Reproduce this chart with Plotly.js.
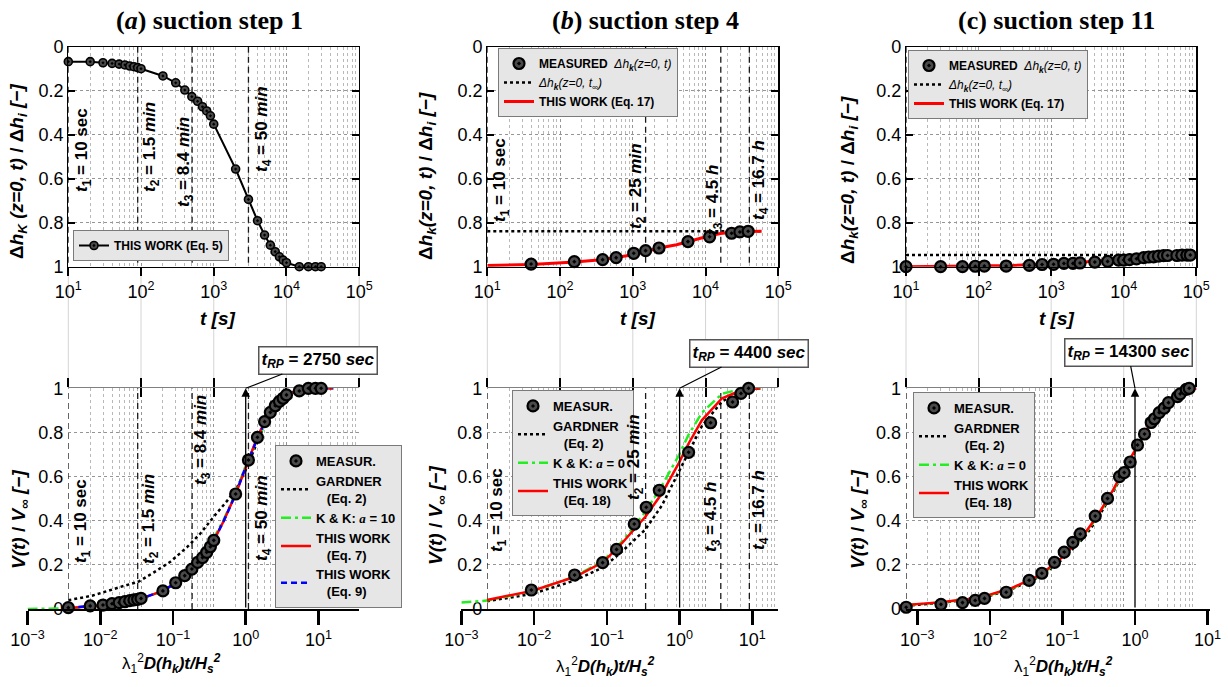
<!DOCTYPE html>
<html><head><meta charset="utf-8">
<script src="https://cdn.plot.ly/plotly-3.0.1.min.js"></script>
<style>html,body{margin:0;padding:0;background:#fff;}#chart{width:1228px;height:687px;}</style>
</head><body><div id="chart"></div>
<script>
// ================= DATA =================
// (a) suction step 1 — top: Δh_K(z=0,t)/Δh_i vs t [s]
const aTopT = [10,20,30,40,50,60,70,80,90,100,200,300,400,500,600,700,800,900,1000,2000,3000,4000,5000,6000,7000,8000,9000,10000,15000,20000,25000,30000];
const aTopY = [0.068,0.068,0.073,0.076,0.079,0.083,0.088,0.091,0.095,0.100,0.133,0.164,0.197,0.227,0.248,0.273,0.292,0.314,0.352,0.556,0.694,0.791,0.856,0.902,0.932,0.955,0.970,0.982,1.0,1.0,1.0,1.0];
// (a) bottom: V(t)/V∞ vs λ1²D t/Hs²
const aMeasX = [0.00364,0.00727,0.0109,0.0145,0.0182,0.0218,0.0255,0.0291,0.0327,0.0364,0.0727,0.109,0.145,0.182,0.218,0.255,0.291,0.327,0.364,0.727,1.09,1.45,1.82,2.18,2.55,2.91,3.27,3.64,5.45,7.27,9.09,10.9];
const aMeasY = [0.006,0.014,0.018,0.024,0.029,0.033,0.038,0.041,0.044,0.048,0.082,0.119,0.151,0.181,0.211,0.233,0.257,0.282,0.311,0.521,0.675,0.778,0.849,0.891,0.921,0.941,0.955,0.970,0.988,1.0,1.0,1.0];
const aGardX = [0.00364,0.0077,0.019,0.0337,0.054,0.092,0.156,0.238,0.363,0.555,0.76,1.0,1.3,1.7,2.2,3.0,4.0,6.0,10,16];
const aGardY = [0.040,0.060,0.100,0.124,0.165,0.214,0.280,0.342,0.418,0.490,0.550,0.630,0.720,0.815,0.885,0.945,0.978,0.996,1.0,1.0];
const aKKX = [0.001,0.00364,0.006,0.01,0.02,0.0364,0.0727,0.145,0.3,0.5,0.727,1.0,1.3,1.6,2.0,2.5,3.0,4.0,5.5,8,16];
const aKKY = [0.0,0.003,0.009,0.016,0.029,0.046,0.082,0.152,0.270,0.405,0.525,0.650,0.735,0.795,0.860,0.910,0.945,0.975,0.992,0.999,1.0];
const aEq7X = [0.00364,0.0042,0.0073,0.01,0.02,0.0364,0.0727,0.109,0.145,0.2,0.3,0.364,0.5,0.727,1.0,1.3,1.6,2.0,2.5,3.0,4.0,5.5,8,16];
const aEq7Y = [0.0,0.006,0.012,0.017,0.031,0.047,0.082,0.118,0.150,0.195,0.265,0.310,0.400,0.520,0.645,0.740,0.810,0.870,0.918,0.948,0.977,0.993,0.999,1.0];
const aEq9X = [0.00364,0.0073,0.01,0.02,0.0364,0.0727,0.109,0.145,0.2,0.3,0.364,0.5,0.727,1.0,1.3,1.6,2.0,2.5,3.0,4.0,5.5,8,16];
const aEq9Y = [0.005,0.012,0.017,0.031,0.047,0.082,0.118,0.150,0.195,0.265,0.310,0.400,0.520,0.645,0.738,0.805,0.868,0.916,0.947,0.977,0.993,0.999,1.0];

// (b) suction step 4
const bTopT = [40,157,385,590,1030,1500,2290,5730,11370,22800,29650,38500];
const bTopY = [0.988,0.977,0.968,0.959,0.939,0.927,0.915,0.886,0.864,0.848,0.842,0.839];
const bInfT = [10,59000];
const bInfY = [0.839,0.839];
const bEq17T = [10,40,160,400,1000,2300,4000,5700,8000,11400,16000,25000,40000,59000];
const bEq17Y = [0.995,0.990,0.979,0.967,0.946,0.915,0.900,0.886,0.872,0.859,0.849,0.842,0.840,0.839];
const bMeasX = [0.00916,0.036,0.0875,0.136,0.238,0.348,0.526,1.33,2.67,5.35,6.98,8.88];
const bMeasY = [0.086,0.154,0.21,0.27,0.385,0.461,0.538,0.71,0.844,0.938,0.977,1.0];
const bGardX = [0.00225,0.00935,0.0368,0.0903,0.161,0.338,0.573,0.97,1.33,2.03,3.83,7.2,13];
const bGardY = [0.035,0.068,0.13,0.19,0.26,0.36,0.47,0.62,0.71,0.83,0.94,0.99,1.0];
const bKKX = [0.001,0.00225,0.00935,0.0368,0.0903,0.161,0.338,0.573,0.97,1.33,2.03,3.83,7.2,13];
const bKKY = [0.03,0.038,0.08,0.148,0.22,0.305,0.44,0.56,0.695,0.79,0.89,0.975,0.998,1.0];
const bEq18X = [0.00225,0.00935,0.0368,0.0903,0.161,0.338,0.573,0.97,1.33,2.03,3.83,7.2,13];
const bEq18Y = [0.041,0.082,0.146,0.214,0.298,0.418,0.524,0.66,0.75,0.856,0.955,0.992,1.0];

// (c) suction step 11
const cTopT = [10,30,60,90,120,240,500,750,1080,1500,2000,2500,4000,6000,8500,10000,12000,15000,18800,22000,25800,30200,35400,40200,54000,63400,74300,82600];
const cTopY = [1.0,1.0,1.0,0.998,0.997,0.997,0.994,0.99,0.989,0.985,0.985,0.983,0.979,0.976,0.97,0.97,0.968,0.964,0.959,0.956,0.955,0.952,0.95,0.949,0.949,0.947,0.947,0.947];
const cInfT = [10,100000];
const cInfY = [0.947,0.947];
const cEq17T = [10,100,300,1000,3000,6000,10000,20000,40000,100000];
const cEq17Y = [1.0,0.997,0.994,0.988,0.979,0.972,0.964,0.955,0.949,0.947];
const cMeasX = [0.000703,0.00212,0.0042,0.00628,0.00844,0.0168,0.0348,0.0521,0.0778,0.1058,0.1394,0.176,0.283,0.418,0.611,0.71,0.859,1.083,1.352,1.672,1.857,2.155,2.525,2.894,3.85,4.2,5.08,5.58];
const cMeasY = [0.008,0.021,0.029,0.039,0.048,0.076,0.13,0.162,0.211,0.258,0.302,0.34,0.421,0.501,0.6,0.618,0.666,0.743,0.793,0.845,0.862,0.89,0.91,0.935,0.962,0.975,0.995,1.0];
const cGardX = [0.0007,0.002,0.005,0.01,0.02,0.05,0.1,0.2,0.3,0.5,0.7,1,1.5,2,3,4,5,7];
const cGardY = [0.015,0.027,0.042,0.06,0.09,0.148,0.225,0.325,0.405,0.53,0.62,0.715,0.82,0.88,0.94,0.97,0.985,1.0];
const cKKX = [0.0007,0.002,0.005,0.01,0.02,0.05,0.1,0.2,0.3,0.5,0.7,1,1.5,2,2.4];
const cKKY = [0.017,0.029,0.044,0.063,0.093,0.152,0.232,0.335,0.415,0.535,0.625,0.715,0.815,0.87,0.9];
const cEq18X = [0.0007,0.002,0.005,0.01,0.02,0.05,0.1,0.2,0.3,0.5,0.7,1,1.5,2,3,4,5,7];
const cEq18Y = [0.018,0.03,0.045,0.065,0.095,0.155,0.235,0.34,0.42,0.54,0.63,0.72,0.82,0.88,0.94,0.97,0.985,1.0];

// time markers [s] and reference times t_RP [s]
const aTimes = [10,90,504,3000];
const bTimes = [10,1500,16200,40000];
const cTimes = [10];
const tRP = [2750,4400,14300];

// tick labels
const tTickVals = [10,100,1000,10000,100000];
const tTickText = ['10<sup>1</sup>','10<sup>2</sup>','10<sup>3</sup>','10<sup>4</sup>','10<sup>5</sup>'];
const xnTickVals = [0.001,0.01,0.1,1,10];
const xnTickText = ['10<sup>\u22123</sup>','10<sup>\u22122</sup>','10<sup>\u22121</sup>','10<sup>0</sup>','10<sup>1</sup>'];
const yTickVals = [0,0.2,0.4,0.6,0.8,1];
const yTickText = ['0','0.2','0.4','0.6','0.8','1'];

const panelTitles = ['<b>(<i>a</i>) suction step 1</b>','<b>(<i>b</i>) suction step 4</b>','<b>(c) suction step 11</b>'];
const aLabels = ['<i>t</i><sub>1</sub> = 10 sec','<i>t</i><sub>2</sub> = 1.5 <i>min</i>','<i>t</i><sub>3</sub> = 8.4 <i>min</i>','<i>t</i><sub>4</sub> = 50 <i>min</i>'];
const bLabels = ['<i>t</i><sub>1</sub> = 10 sec','<i>t</i><sub>2</sub> = 25 <i>min</i>','<i>t</i><sub>3</sub> = 4.5 <i>h</i>','<i>t</i><sub>4</sub> = 16.7 <i>h</i>'];
const tRPLabels = ['2750','4400','14300'];

// ================= LAYOUT GEOMETRY (pixels) =================
const W = 1228, H = 687;
const FONT = 'Liberation Sans, Arial, Helvetica, sans-serif';
const SERIF = 'Liberation Serif, Times New Roman, serif';
const fx = p => p / W;
const fy = p => 1 - p / H;
const boxes = [{L:68.3,R:359.2},{L:487.3,R:778.3},{L:906,R:1196.3}];
const topPix = [46.7,266.7], botPix = [388.3,609];
const xnRanges = [[-3, Math.log10(1e5/2750)],[-3, Math.log10(1e5/4400)],[Math.log10(10/14300), 1.04]];
function xnDomain(i){
  const b = boxes[i], dec = (b.R-b.L)/4, lt = Math.log10(tRP[i]);
  const p = v => b.L + (v + lt - 1)*dec;
  return [fx(p(xnRanges[i][0])), fx(p(xnRanges[i][1]))];
}

const grid = {showgrid:true, gridcolor:'#959595', griddash:'dot', gridwidth:1};
const minorGrid = {dtick:'D1', showgrid:true, gridcolor:'#b8b8b8', griddash:'dot', gridwidth:1, ticks:''};
const tickfont = {family:FONT, size:18, color:'#000'};

const layout = {
  width:W, height:H, margin:{l:0,r:0,t:0,b:0},
  paper_bgcolor:'#fff', plot_bgcolor:'rgba(0,0,0,0)',
  font:{family:FONT, color:'#000'}, showlegend:true,
  shapes:[], annotations:[]
};
const ax = id => id.replace(/^x/,'xaxis').replace(/^y/,'yaxis');

for (let i=0;i<3;i++){
  const b = boxes[i];
  const xT = i===0?'x':'x'+(i+1), yT = i===0?'y':'y'+(i+1);
  const xB = 'x'+(i+4), yB = 'y'+(i+4);
  const xN = 'x'+(i+7), yN = 'y'+(i+7);
  const xO = 'x'+(i+10);
  layout[ax(xT)] = Object.assign({domain:[fx(b.L),fx(b.R)], anchor:yT, type:'log', range:[1,5],
    tickmode:'array', tickvals:tTickVals, ticktext:tTickText, ticks:'outside', ticklen:8, tickwidth:2, tickcolor:'#000',
    showline:true, linecolor:'#000', linewidth:1.2, mirror:true, zeroline:false, tickfont, minor:minorGrid}, grid);
  layout[ax(yT)] = Object.assign({domain:[fy(topPix[1]),fy(topPix[0])], anchor:xT, range:[1,0],
    tickmode:'array', tickvals:yTickVals, ticktext:yTickText, ticks:'inside', ticklen:7, tickwidth:2, tickcolor:'#000',
    showline:true, linecolor:'#000', linewidth:1.2, mirror:'ticks', zeroline:false, tickfont}, grid);
  layout[ax(xB)] = Object.assign({domain:[fx(b.L),fx(b.R)], anchor:yB, type:'log', range:[1,5], side:'top',
    tickmode:'linear', tick0:0, dtick:1, ticks:'inside', ticklen:9, tickwidth:2, tickcolor:'#000', showticklabels:false,
    showline:true, linecolor:'#808080', linewidth:1, zeroline:false, minor:minorGrid}, grid);
  layout[ax(xO)] = {overlaying:xB, anchor:yB, type:'log', range:[1,5], side:'top', tickmode:'linear', tick0:0, dtick:1,
    ticks:'outside', ticklen:9, tickwidth:2, tickcolor:'#000', showticklabels:false, showgrid:false, showline:false, zeroline:false};
  layout[ax(yB)] = Object.assign({domain:[fy(botPix[1]),fy(botPix[0])], anchor:xB, range:[0,1],
    tickmode:'array', tickvals:yTickVals, ticktext:yTickText, ticks:'', ticklabelstandoff:4, showline:false, zeroline:false, tickfont}, grid);
  layout[ax(xN)] = {domain:xnDomain(i), anchor:yN, type:'log', range:xnRanges[i],
    tickmode:'array', tickvals:xnTickVals, ticktext:xnTickText, ticks:'outside', ticklen:14, tickwidth:2.5, tickcolor:'#000',
    showline:true, linecolor:'#000', linewidth:1.5, showgrid:false, zeroline:false, tickfont};
  layout[ax(yN)] = {domain:[fy(botPix[1]),fy(botPix[0])], anchor:xN, range:[0,1], visible:false};

  // light connector lines between the two rows at every decade of t
  for (let k=0;k<5;k++){
    const px = b.L + k*(b.R-b.L)/4;
    layout.shapes.push({type:'line', xref:'paper', yref:'paper', x0:fx(px), x1:fx(px), y0:fy(botPix[0]), y1:fy(topPix[1]),
      line:{color:'#d4d4d4', width:1}, layer:'below'});
  }
}

// ================= LEGENDS =================
const legBase = {xanchor:'left', yanchor:'top', bgcolor:'#e6e6e6', bordercolor:'#7a7a7a', borderwidth:1,
  itemwidth:30, traceorder:'normal', valign:'middle', tracegroupgap:0};
layout.legend  = Object.assign({}, legBase, {x:fx(73),  y:fy(230), font:{family:FONT,size:12,color:'#000'}});
layout.legend2 = Object.assign({}, legBase, {x:fx(498), y:fy(48),  font:{family:FONT,size:12,color:'#000'}});
layout.legend3 = Object.assign({}, legBase, {x:fx(908), y:fy(50),  font:{family:FONT,size:12,color:'#000'}});
layout.legend4 = Object.assign({}, legBase, {x:fx(275), y:fy(445), font:{family:FONT,size:13,color:'#000'}});
layout.legend5 = Object.assign({}, legBase, {x:fx(512), y:fy(390), font:{family:FONT,size:13,color:'#000'}});
layout.legend6 = Object.assign({}, legBase, {x:fx(913), y:fy(392), font:{family:FONT,size:13,color:'#000'}});

// ================= TRACES =================
const traces = [];
const measMarker = {symbol:'circle-dot', size:11, color:'#4a4a4a', line:{color:'#000', width:2.2}};
function vlines(times, xa, ya){
  times.forEach(t => traces.push({type:'scatter', mode:'lines', x:[t,t], y:[0,1], xaxis:xa, yaxis:ya,
    line:{color:'#1a1a1a', width:1.3, dash:'6px,4px'}, showlegend:false, hoverinfo:'skip'}));
}
vlines(aTimes,'x','y'); vlines(bTimes,'x2','y2'); vlines(cTimes,'x3','y3');
vlines(aTimes,'x4','y4'); vlines(bTimes,'x5','y5'); vlines(cTimes,'x6','y6');
// empty traces so the overlay tick axes exist
['x10','x11','x12'].forEach((xa,i)=>traces.push({type:'scatter', mode:'lines', x:[10,10], y:[null,null], xaxis:xa, yaxis:'y'+(i+4), showlegend:false, hoverinfo:'skip'}));

// (a) top
traces.push({type:'scatter', mode:'lines+markers', x:aTopT, y:aTopY, xaxis:'x', yaxis:'y', cliponaxis:false,
  line:{color:'#000', width:2}, marker:{symbol:'circle-dot', size:8, color:'#4a4a4a', line:{color:'#000', width:1.6}},
  name:'<b>THIS WORK (Eq. 5)</b>', legend:'legend'});

// (b),(c) top
const measName = '<b>MEASURED</b>\u00a0\u00a0<i>\u0394h<sub><b>k</b></sub>(z=0, t)</i>';
const infName = '<i>\u0394h<sub><b>k</b></sub>(z=0, t<sub>\u221e</sub>)</i>';
[[bInfT,bInfY,bEq17T,bEq17Y,bTopT,bTopY,'x2','y2','legend2'],[cInfT,cInfY,cEq17T,cEq17Y,cTopT,cTopY,'x3','y3','legend3']].forEach(p=>{
  traces.push({type:'scatter', mode:'lines', x:p[0], y:p[1], xaxis:p[6], yaxis:p[7], line:{color:'#000', width:2.5, dash:'dot'},
    name:infName, legend:p[8], legendrank:2});
  traces.push({type:'scatter', mode:'lines', x:p[2], y:p[3], xaxis:p[6], yaxis:p[7], line:{color:'#ff0000', width:3},
    name:'<b>THIS WORK (Eq. 17)</b>', legend:p[8], legendrank:3});
  traces.push({type:'scatter', mode:'markers', x:p[4], y:p[5], xaxis:p[6], yaxis:p[7], cliponaxis:false,
    marker:measMarker, name:measName, legend:p[8], legendrank:1});
});

// bottom rows
const nb = '\u00a0\u00a0\u00a0';
function kkName(a){ return '<b>K &amp; K: <i><span style="font-family:Liberation Serif">a</span></i> = '+a+'</b>'; }
traces.push({type:'scatter', mode:'lines', x:aGardX, y:aGardY, xaxis:'x7', yaxis:'y7', line:{color:'#000', width:2.5, dash:'dot'},
  name:'<b>GARDNER</b><br><b>'+nb+'(Eq. 2)</b>', legend:'legend4', legendrank:2});
traces.push({type:'scatter', mode:'lines', x:aKKX, y:aKKY, xaxis:'x7', yaxis:'y7', line:{color:'#22ee22', width:2.5, dash:'10px,4px,3px,4px'},
  name:kkName('10'), legend:'legend4', legendrank:3});
traces.push({type:'scatter', mode:'lines', x:aEq7X, y:aEq7Y, xaxis:'x7', yaxis:'y7', line:{color:'#ff0000', width:2.5},
  name:'<b>THIS WORK</b><br><b>'+nb+'(Eq. 7)</b>', legend:'legend4', legendrank:4});
traces.push({type:'scatter', mode:'lines', x:aEq9X, y:aEq9Y, xaxis:'x7', yaxis:'y7', line:{color:'#0000ff', width:2.5, dash:'6px,4px'},
  name:'<b>THIS WORK</b><br><b>'+nb+'(Eq. 9)</b>', legend:'legend4', legendrank:5});
traces.push({type:'scatter', mode:'markers', x:aMeasX, y:aMeasY, xaxis:'x7', yaxis:'y7', cliponaxis:false,
  marker:measMarker, name:'<b>MEASUR.</b>', legend:'legend4', legendrank:1});
[[bGardX,bGardY,bKKX,bKKY,bEq18X,bEq18Y,bMeasX,bMeasY,'x8','y8','legend5'],[cGardX,cGardY,cKKX,cKKY,cEq18X,cEq18Y,cMeasX,cMeasY,'x9','y9','legend6']].forEach(p=>{
  traces.push({type:'scatter', mode:'lines', x:p[0], y:p[1], xaxis:p[8], yaxis:p[9], line:{color:'#000', width:2.5, dash:'dot'},
    name:'<b>GARDNER</b><br><b>'+nb+'(Eq. 2)</b>', legend:p[10], legendrank:2});
  traces.push({type:'scatter', mode:'lines', x:p[2], y:p[3], xaxis:p[8], yaxis:p[9], line:{color:'#22ee22', width:2.5, dash:'10px,4px,3px,4px'},
    name:kkName('0'), legend:p[10], legendrank:3});
  traces.push({type:'scatter', mode:'lines', x:p[4], y:p[5], xaxis:p[8], yaxis:p[9], line:{color:'#ff0000', width:2.5},
    name:'<b>THIS WORK</b><br><b>'+nb+'(Eq. 18)</b>', legend:p[10], legendrank:4});
  traces.push({type:'scatter', mode:'markers', x:p[6], y:p[7], xaxis:p[8], yaxis:p[9], cliponaxis:false,
    marker:measMarker, name:'<b>MEASUR.</b>', legend:p[10], legendrank:1});
});

// ================= ANNOTATIONS =================
const A = layout.annotations;
const titlePos = [[209,20],[645,20],[1056,20]];
panelTitles.forEach((t,i)=>A.push({xref:'paper', yref:'paper', x:fx(titlePos[i][0]), y:fy(titlePos[i][1]), text:t, showarrow:false,
  xanchor:'center', yanchor:'middle', font:{family:SERIF, size:26, color:'#000'}}));

const yTopTitleA = '<b>\u0394<i>h</i><sub><i>K</i></sub> <i>(z=0, t)</i> / \u0394<i>h</i><sub><i>i</i></sub> <i>[\u2212]</i></b>';
const yTopTitleB = '<b>\u0394<i>h</i><sub><i>k</i></sub><i>(z=0, t)</i> / \u0394<i>h</i><sub><i>i</i></sub> <i>[\u2212]</i></b>';
const yBotTitle = '<b><i>V(t)</i> / <i>V</i><sub>\u221e</sub> <i>[\u2212]</i></b>';
const xTopTitle = '<b><i>t [s]</i></b>';
const xBotTitle = '\u03bb<sub>1</sub><sup>2</sup><b><i>D(h<sub>k</sub>)t/H<sub>s</sub><sup>2</sup></i></b>';
const rot = (x,y,text,size)=>A.push({xref:'paper', yref:'paper', x:fx(x), y:fy(y), text, textangle:-90, showarrow:false,
  xanchor:'center', yanchor:'middle', font:{family:FONT, size, color:'#000'}});
const flat = (x,y,text,size)=>A.push({xref:'paper', yref:'paper', x:fx(x), y:fy(y), text, showarrow:false,
  xanchor:'center', yanchor:'middle', font:{family:FONT, size, color:'#000'}});
rot(18,172,yTopTitleA,19); rot(427,176,yTopTitleB,19); rot(849,180,yTopTitleB,19);
rot(20,520,yBotTitle,19); rot(437,516,yBotTitle,19); rot(859,520,yBotTitle,19);
flat(218,318,xTopTitle,19); flat(638,318,xTopTitle,19); flat(1057,318,xTopTitle,19);
flat(171,663,xBotTitle,17); flat(605,666,xBotTitle,17); flat(1063,666,xBotTitle,17);

// rotated time labels
const lblTopA = [[83,150],[151,147],[185,162],[263,129]];
const lblTopB = [[501,180],[637,186],[714,200],[760,180]];
const lblBotA = [[82,521],[150,519],[202,440],[263,518]];
const lblBotB = [[498,510],[635,457],[712,517],[760,510]];
aLabels.forEach((t,i)=>{ rot(lblTopA[i][0],lblTopA[i][1],'<b>'+t+'</b>',17); rot(lblBotA[i][0],lblBotA[i][1],'<b>'+t+'</b>',17); });
bLabels.forEach((t,i)=>{ rot(lblTopB[i][0],lblTopB[i][1],'<b>'+t+'</b>',17); rot(lblBotB[i][0],lblBotB[i][1],'<b>'+t+'</b>',17); });

// t_RP: vertical arrow at normalized time 1 and boxed label
const rpOff = [[72,-28],[69,-35],[-7,-36]];
tRPLabels.forEach((v,i)=>{
  const xa = 'x'+(i+7), ya = 'y'+(i+7);
  A.push({xref:xa, yref:ya, x:0, y:1, axref:xa, ayref:ya, ax:0, ay:0, text:'', showarrow:true,
    arrowhead:2, arrowsize:1.3, arrowwidth:1.3, arrowcolor:'#000'});
  A.push({xref:xa, yref:ya, x:0, y:1, ax:rpOff[i][0], ay:rpOff[i][1], showarrow:true, arrowhead:0, arrowwidth:1.2, arrowcolor:'#000',
    text:'<b><i>t</i><sub><i>RP</i></sub> = '+v+' <i>sec</i></b>', bgcolor:'#fff', bordercolor:'#555', borderwidth:1.5, borderpad:2,
    font:{family:FONT, size:17, color:'#000'}});
});

Plotly.newPlot('chart', traces, layout, {staticPlot:true, displayModeBar:false});
</script></body></html>
